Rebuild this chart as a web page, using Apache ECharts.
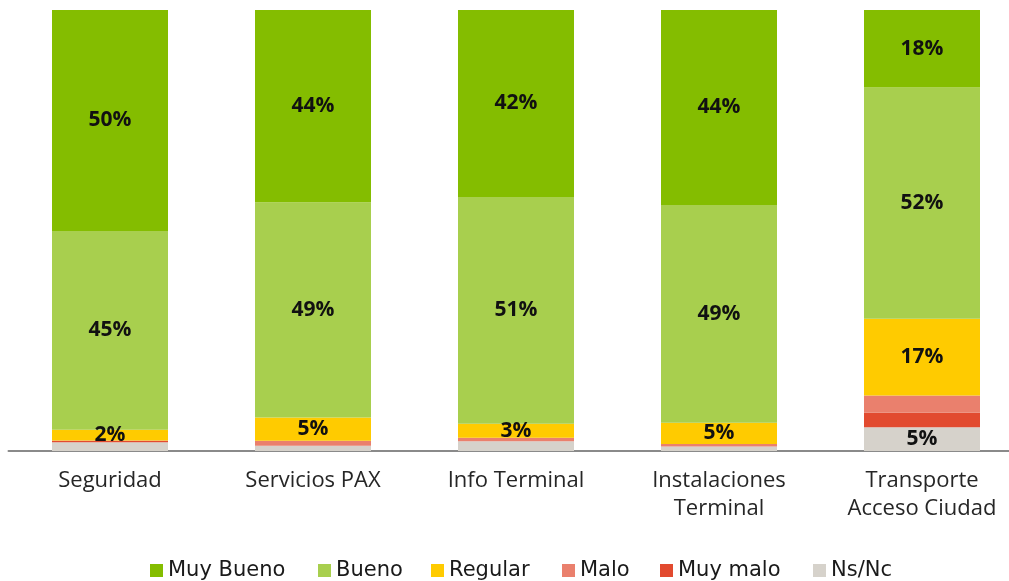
<!DOCTYPE html>
<html><head><meta charset="utf-8">
<script src="https://cdn.jsdelivr.net/npm/echarts@6/dist/echarts.min.js"></script>
<style>html,body{margin:0;padding:0;background:#fff}#c{width:1009px;height:581px}</style>
</head><body><div id="c"></div>
<script>
const categories = ['Seguridad', 'Servicios PAX', 'Info Terminal', 'Instalaciones\nTerminal', 'Transporte\nAcceso Ciudad'];
const seriesNames = ['Muy Bueno', 'Bueno', 'Regular', 'Malo', 'Muy malo', 'Ns/Nc'];
const muyBueno = [50.1, 43.6, 42.4, 44.2, 17.6];
const bueno    = [45.1, 48.8, 51.4, 49.4, 52.4];
const regular  = [2.4, 5.3, 3.2, 4.8, 17.4];
const malo     = [0.1, 1.1, 0.8, 0.6, 3.9];
const muyMalo  = [0.3, 0, 0, 0, 3.3];
const nsnc     = [2.0, 1.2, 2.2, 1.0, 5.4];

const colors = ['#84bd00', '#a8cf4e', '#ffcb00', '#ea806d', '#e24a2f', '#d6d2cb'];
const values = [muyBueno, bueno, regular, malo, muyMalo, nsnc];
const labelMin = [2, 2, 2, 5, 5, 5];
const legendLefts = [145, 313, 426, 557, 655, 808];

const order = [5, 4, 3, 2, 1, 0];
const chart = echarts.init(document.getElementById('c'));
chart.setOption({
  animation: false,
  color: colors,
  grid: { left: 8.5, width: 1015, top: 10, height: 441, outerBoundsMode: 'none', containLabel: false },
  legend: seriesNames.map((n, i) => ({
    top: 555, left: legendLefts[i], itemWidth: 13, itemHeight: 13, icon: 'rect',
    textStyle: { fontFamily: 'DejaVu Sans', fontSize: 21, color: '#1a1a1a' },
    data: [n]
  })),
  xAxis: {
    type: 'category', data: categories,
    axisLine: { lineStyle: { color: '#8a8a8a', width: 2 } },
    axisTick: { show: false },
    axisLabel: { fontFamily: 'Open Sans', fontSize: 22, lineHeight: 28, color: '#262626', margin: 16, interval: 0 }
  },
  yAxis: { type: 'value', min: 0, max: 100, show: false, splitLine: { show: false } },
  series: order.map(i => ({
    name: seriesNames[i], type: 'bar', stack: 'total', barWidth: 116,
    itemStyle: { color: colors[i] },
    label: {
      show: true, position: 'inside', color: '#111', fontFamily: 'Open Sans', fontWeight: 'bold', fontSize: 21,
      formatter: p => p.value >= labelMin[i] ? Math.round(p.value) + '%' : ''
    },
    data: values[i]
  }))
});
</script></body></html>
